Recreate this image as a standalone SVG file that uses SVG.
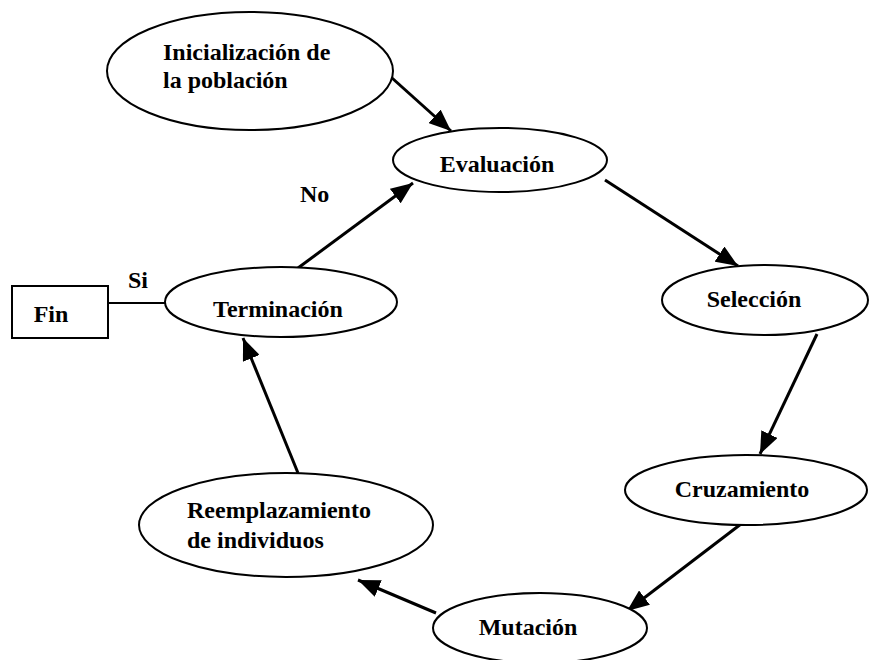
<svg xmlns="http://www.w3.org/2000/svg" width="870" height="660" viewBox="0 0 870 660">
<style>
.n{fill:#fff;stroke:#000;stroke-width:2}
.t{font-family:"Liberation Serif","Times New Roman",serif;font-weight:bold;font-size:24px;fill:#000}
.c{stroke:#000;stroke-width:3;fill:none}
.a{marker-end:url(#ah)}
</style>
<defs>
<marker id="ah" viewBox="0 0 22 18" refX="22" refY="9" markerWidth="22" markerHeight="18" markerUnits="userSpaceOnUse" orient="auto">
<path d="M0,0 L22,9 L0,18 Z" fill="#000"/>
</marker>
</defs>
<rect width="870" height="660" fill="#fff"/>
<g id="connectors">
<line class="c a" x1="392" y1="78" x2="451" y2="131"/>
<line class="c a" x1="298" y1="268" x2="413" y2="183"/>
<line class="c a" x1="605" y1="180" x2="738" y2="266"/>
<line class="c a" x1="817" y1="334" x2="760" y2="454"/>
<line class="c a" x1="741" y1="524" x2="627" y2="611"/>
<line class="c a" x1="436" y1="613" x2="358" y2="580"/>
<line class="c a" x1="298" y1="473" x2="243" y2="338"/>
<line stroke="#000" stroke-width="2" x1="108" y1="303" x2="165" y2="303"/>
<text class="t" x="128" y="288">Si</text>
<text class="t" x="300" y="202">No</text>
</g>
<g id="inicializacion">
<ellipse class="n" cx="250" cy="71" rx="143" ry="59"/>
<text class="t" x="163" y="60">Inicialización de</text>
<text class="t" x="163" y="88">la población</text>
</g>
<g id="evaluacion">
<ellipse class="n" cx="500" cy="160" rx="107" ry="32"/>
<text class="t" x="497" y="172" text-anchor="middle">Evaluación</text>
</g>
<g id="seleccion">
<ellipse class="n" cx="765" cy="300" rx="103" ry="35"/>
<text class="t" x="754" y="307" text-anchor="middle">Selección</text>
</g>
<g id="cruzamiento">
<ellipse class="n" cx="746" cy="490" rx="121" ry="35"/>
<text class="t" x="742" y="497" text-anchor="middle">Cruzamiento</text>
</g>
<g id="mutacion">
<ellipse class="n" cx="540" cy="628" rx="107" ry="35"/>
<text class="t" x="528" y="635" text-anchor="middle">Mutación</text>
</g>
<g id="reemplazamiento">
<ellipse class="n" cx="286" cy="525" rx="147" ry="52"/>
<text class="t" x="187" y="518">Reemplazamiento</text>
<text class="t" x="187" y="548">de individuos</text>
</g>
<g id="terminacion">
<ellipse class="n" cx="281" cy="302" rx="116" ry="35"/>
<text class="t" x="278" y="317" text-anchor="middle">Terminación</text>
</g>
<g id="fin">
<rect class="n" x="12" y="286" width="96" height="52"/>
<text class="t" x="51" y="322" text-anchor="middle">Fin</text>
</g>
</svg>
